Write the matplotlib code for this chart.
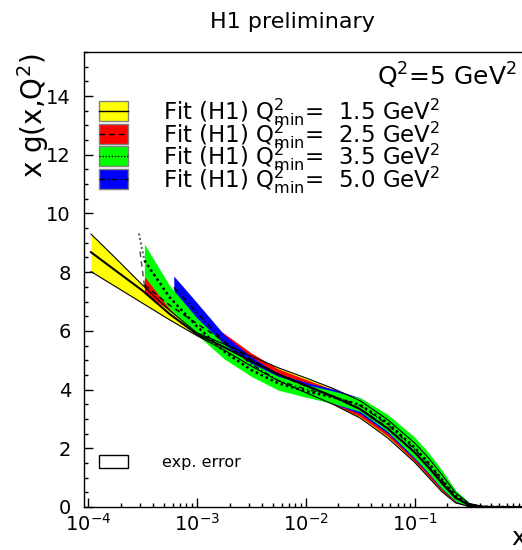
import numpy as np
import matplotlib.pyplot as plt
from matplotlib.patches import Rectangle
from matplotlib.ticker import LogLocator, MultipleLocator, FuncFormatter, NullFormatter

plt.rcParams['font.family'] = ['DejaVu Sans']

# log10(x) grids and x g(x,Q^2) bands
lx_yellow = [-3.97, -3.75, -3.5, -3.25, -3.0, -2.75, -2.5, -2.25, -2.0, -1.75,
             -1.5, -1.25, -1.0, -0.875, -0.75, -0.625, -0.5, -0.375, -0.25, 0.0]
yellow_lo = [8.02, 7.52, 6.95, 6.38, 5.84, 5.35, 4.80, 4.30, 3.90, 3.50,
             3.03, 2.36, 1.52, 1.02, 0.52, 0.14, 0.02, 0.0, 0.0, 0.0]
yellow_c = [8.68, 8.07, 7.38, 6.58, 5.89, 5.45, 4.97, 4.52, 4.14, 3.77,
            3.33, 2.68, 1.86, 1.36, 0.81, 0.31, 0.06, 0.01, 0.0, 0.0]
yellow_hi = [9.30, 8.50, 7.57, 6.70, 5.94, 5.55, 5.14, 4.74, 4.40, 4.04,
             3.62, 2.98, 2.18, 1.68, 1.10, 0.48, 0.12, 0.02, 0.0, 0.0]

lx_red = [-3.48, -3.25, -3.0, -2.75, -2.5, -2.25, -2.0, -1.75, -1.5, -1.25,
          -1.0, -0.875, -0.75, -0.625, -0.5, -0.375, -0.25, 0.0]
red_lo = [7.28, 6.70, 6.05, 5.40, 4.80, 4.30, 3.90, 3.50, 3.08, 2.42,
          1.55, 1.05, 0.55, 0.15, 0.02, 0.0, 0.0, 0.0]
red_c = [7.56, 6.88, 6.25, 5.65, 5.02, 4.50, 4.12, 3.75, 3.35, 2.71,
         1.87, 1.37, 0.83, 0.32, 0.07, 0.01, 0.0, 0.0]
red_hi = [7.85, 7.05, 6.45, 5.92, 5.25, 4.70, 4.35, 4.00, 3.62, 3.00,
          2.20, 1.70, 1.12, 0.50, 0.12, 0.02, 0.0, 0.0]

lx_green = lx_red
green_lo = [7.85, 6.75, 5.88, 5.05, 4.45, 3.98, 3.74, 3.53, 3.25, 2.58,
            1.67, 1.17, 0.63, 0.20, 0.02, 0.0, 0.0, 0.0]
green_c = [8.40, 7.15, 6.16, 5.30, 4.67, 4.21, 3.95, 3.74, 3.48, 2.87,
           2.02, 1.51, 0.94, 0.38, 0.08, 0.01, 0.0, 0.0]
green_hi = [8.96, 7.55, 6.45, 5.55, 4.90, 4.45, 4.17, 3.95, 3.72, 3.16,
            2.38, 1.86, 1.26, 0.57, 0.15, 0.02, 0.0, 0.0]

lx_blue = [-3.21, -3.0, -2.75, -2.5, -2.25, -2.0, -1.75, -1.5, -1.25,
           -1.0, -0.875, -0.75, -0.625, -0.5, -0.375, -0.25, 0.0]
blue_lo = [7.10, 6.30, 5.35, 4.62, 4.08, 3.80, 3.52, 3.18, 2.52,
           1.62, 1.13, 0.60, 0.18, 0.02, 0.0, 0.0, 0.0]
blue_c = [7.48, 6.63, 5.62, 4.87, 4.30, 4.02, 3.77, 3.45, 2.82,
          1.97, 1.47, 0.91, 0.36, 0.07, 0.01, 0.0, 0.0]
blue_hi = [7.87, 6.97, 5.88, 5.12, 4.52, 4.25, 4.02, 3.72, 3.12,
           2.33, 1.82, 1.22, 0.55, 0.13, 0.02, 0.0, 0.0]

# central curves running off below the fitted range
lx_green_tail = [-3.53, -3.48]
green_tail = [9.32, 8.40]
lx_red_tail = [-3.52, -3.48]
red_tail = [8.70, 7.56]

qmins = ['1.5', '2.5', '3.5', '5.0']
colors = ['#ffff00', '#ff0000', '#00ff00', '#0000ff']
styles = ['-', (0, (4, 3)), (0, (1, 1.2)), (0, (4, 2, 1, 2))]

W, H = 522, 550
fig = plt.figure(figsize=(W / 100, H / 100), dpi=100)
ax = fig.add_axes([83.5 / W, 43 / H, (524 - 83.5) / W, (507 - 52) / H])


def fp(px, py):
    return px / W, 1 - py / H


def band(lx, lo, hi, c, color, ls, lw):
    x = 10 ** np.array(lx)
    ax.fill_between(x, lo, hi, color=color, lw=0)
    ax.plot(x, c, color='k', ls=ls, lw=lw)


# yellow with its error edges
xy = 10 ** np.array(lx_yellow)
ax.fill_between(xy, yellow_lo, yellow_hi, color=colors[0], lw=0)
ax.plot(xy, yellow_lo, color='k', lw=0.8)
ax.plot(xy, yellow_hi, color='k', lw=0.8)
ax.plot(xy, yellow_c, color='k', lw=1.5)

ax.plot(10 ** np.array(lx_red_tail), red_tail, color='0.3', ls=styles[1], lw=1)
band(lx_red, red_lo, red_hi, red_c, colors[1], styles[1], 1)
band(lx_blue, blue_lo, blue_hi, blue_c, colors[3], styles[3], 1)
ax.plot(10 ** np.array(lx_green_tail), green_tail, color='0.4', ls=styles[2], lw=1.5)
band(lx_green, green_lo, green_hi, green_c, colors[2], styles[2], 1.8)


def xfmt(v, p):
    if v >= 0.5:
        return ''
    return r'$\mathregular{10^{%d}}$' % round(np.log10(v))


ax.set_xscale('log')
ax.set_xlim(10 ** -4.0385, 10 ** 0.003)
ax.set_ylim(0, 15.5)
ax.xaxis.set_major_locator(LogLocator(base=10, numticks=10))
ax.xaxis.set_minor_locator(LogLocator(base=10, subs=np.arange(2, 10), numticks=10))
ax.xaxis.set_major_formatter(FuncFormatter(xfmt))
ax.xaxis.set_minor_formatter(NullFormatter())
ax.set_yticks(np.arange(0, 15, 2))
ax.yaxis.set_minor_locator(MultipleLocator(0.5))
ax.tick_params(which='both', direction='in', top=False, right=False, width=1)
ax.tick_params(which='major', length=6.5, labelsize=14)
ax.tick_params(axis='y', which='major', pad=9)
ax.tick_params(axis='x', which='major', pad=4)
ax.tick_params(which='minor', length=3.2)
for s in ax.spines.values():
    s.set_linewidth(1)

# texts
fig.text(*fp(292, 22), 'H1 preliminary', ha='center', va='center', fontsize=16)
fig.text(*fp(33, 53), r'x g(x,Q$\mathregular{^{2}}$)', rotation=90, ha='center', va='top', fontsize=20)
fig.text(*fp(517, 86), r'Q$\mathregular{^{2}}$=5 GeV$\mathregular{^{2}}$', ha='right', va='baseline', fontsize=18)
fig.text(*fp(511, 550), 'x', ha='left', va='bottom', fontsize=18)

# legend
rows = [111, 134, 156, 179]
for q, col, ls, py in zip(qmins, colors, styles, rows):
    x0, y0 = fp(99, py + 10)
    x1, y1 = fp(128, py - 10)
    fig.add_artist(Rectangle((x0, y0), x1 - x0, y1 - y0, transform=fig.transFigure,
                             facecolor=col, edgecolor='0.5', lw=1))
    fig.add_artist(plt.Line2D([x0, x1], [(y0 + y1) / 2] * 2, transform=fig.transFigure,
                              color='k', ls=ls, lw=1))
    fig.text(*fp(163, py + 8), r'Fit (H1) Q$\mathregular{^{2}_{min}}$=  %s GeV$\mathregular{^{2}}$' % q,
             ha='left', va='baseline', fontsize=16.5)

x0, y0 = fp(99, 468)
x1, y1 = fp(128, 455)
fig.add_artist(Rectangle((x0, y0), x1 - x0, y1 - y0, transform=fig.transFigure,
                         facecolor='none', edgecolor='k', lw=1))
fig.text(*fp(162, 462), 'exp. error', ha='left', va='center', fontsize=11.5)

fig.savefig('out.png', dpi=100)
